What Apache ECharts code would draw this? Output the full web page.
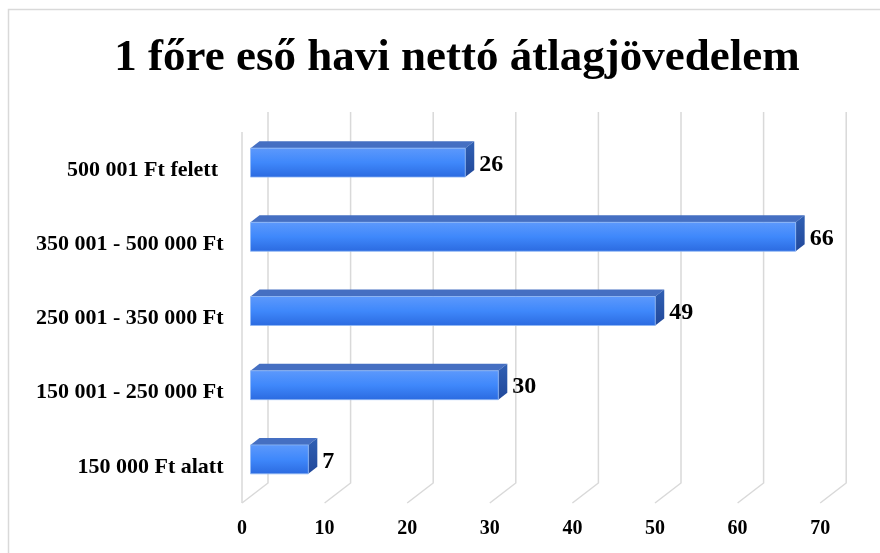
<!DOCTYPE html>
<html>
<head>
<meta charset="utf-8">
<script src="https://cdn.jsdelivr.net/npm/echarts@6/dist/echarts.min.js"></script>
<style>
  html, body { margin: 0; padding: 0; background: #fff; }
  #chart { width: 880px; height: 553px; }
</style>
</head>
<body>
<div id="chart"></div>
<script>
const categories = ['150 000 Ft alatt', '150 001 - 250 000 Ft', '250 001 - 350 000 Ft', '350 001 - 500 000 Ft', '500 001 Ft felett '];
const values = [7, 30, 49, 66, 26];
const xTicks = [0, 10, 20, 30, 40, 50, 60, 70];

const FONT = "'Liberation Serif', 'Times New Roman', serif";
// depth of the fake 3d box, relative to the plane the bars' front faces sit in
const BACK = [17.5, -13.5];
const FRONT = [-8.5, 6.5];
const BAR_DEPTH = [9, -7];
const GRID_COLOR = '#d9d9d9';

const chart = echarts.init(document.getElementById('chart'));

function renderWall(params, api) {
  const cs = params.coordSys;
  const v = api.value(0);
  const x = api.coord([v, 0])[0];
  const top = cs.y;
  const bottom = cs.y + cs.height;
  const lineStyle = { stroke: GRID_COLOR, lineWidth: 1.5, fill: null };
  const children = [
    {
      type: 'polyline',
      shape: { points: [
        [x + BACK[0], top + BACK[1]],
        [x + BACK[0], bottom + BACK[1]],
        [x + FRONT[0], bottom + FRONT[1]]
      ] },
      style: lineStyle
    },
    {
      type: 'text',
      style: {
        x: x + FRONT[0], y: bottom + FRONT[1] + 26,
        text: String(v),
        align: 'center', verticalAlign: 'middle',
        font: 'bold 20px ' + FONT, fill: '#000'
      }
    }
  ];
  if (params.dataIndex === 0) {
    children.push({
      type: 'line',
      shape: { x1: x + FRONT[0], y1: top + FRONT[1], x2: x + FRONT[0], y2: bottom + FRONT[1] },
      style: { stroke: GRID_COLOR, lineWidth: 1.5 }
    });
  }
  return { type: 'group', children: children };
}

function renderBar(params, api) {
  const idx = api.value(0);
  const val = api.value(1);
  const p0 = api.coord([0, idx]);
  const p1 = api.coord([val, idx]);
  const h = api.size([0, 1])[1] * 0.39;
  const x0 = p0[0], x1 = p1[0];
  const yt = p0[1] - h / 2, yb = p0[1] + h / 2;
  const dx = BAR_DEPTH[0], dy = BAR_DEPTH[1];
  return {
    type: 'group',
    children: [
      {
        type: 'polygon',
        shape: { points: [[x0, yt], [x1, yt], [x1 + dx, yt + dy], [x0 + dx, yt + dy]] },
        style: { fill: '#456fc2' }
      },
      {
        type: 'polygon',
        shape: { points: [[x1, yt], [x1 + dx, yt + dy], [x1 + dx, yb + dy], [x1, yb]] },
        style: {
          fill: new echarts.graphic.LinearGradient(0, 0, 0, 1, [
            { offset: 0, color: '#3060b4' },
            { offset: 1, color: '#21489a' }
          ])
        }
      },
      {
        type: 'rect',
        shape: { x: x0, y: yt, width: x1 - x0, height: h },
        style: {
          fill: new echarts.graphic.LinearGradient(0, 0, 0, 1, [
            { offset: 0, color: '#5d99fc' },
            { offset: 0.5, color: '#3f88fb' },
            { offset: 1, color: '#2b6ae0' }
          ]),
          stroke: '#8fb7f5', lineWidth: 0.8
        }
      },
      {
        type: 'text',
        style: {
          x: x1 + 14, y: p0[1] + 2,
          text: String(val),
          align: 'left', verticalAlign: 'middle',
          font: 'bold 24px ' + FONT, fill: '#000'
        }
      }
    ]
  };
}

const option = {
  backgroundColor: '#fff',
  animation: false,
  graphic: [
    {
      type: 'rect',
      shape: { x: 8.5, y: 9.5, width: 900, height: 600 },
      style: { fill: null, stroke: GRID_COLOR, lineWidth: 1.5 },
      silent: true
    }
  ],
  title: {
    text: '1 főre eső havi nettó átlagjövedelem',
    left: 452,
    top: 31,
    textAlign: 'center',
    textStyle: { fontFamily: FONT, fontWeight: 'bold', fontSize: 45, color: '#000' }
  },
  grid: { left: 250.5, top: 125.5, width: 578.2, height: 371 },
  xAxis: {
    type: 'value',
    min: 0, max: 70, interval: 10,
    axisLabel: { show: false },
    axisLine: { show: false },
    axisTick: { show: false },
    splitLine: { show: false }
  },
  yAxis: {
    type: 'category',
    data: categories,
    axisLine: { show: false },
    axisTick: { show: false },
    axisLabel: {
      margin: 27,
      verticalAlign: 'top',
      lineHeight: 15,
      fontFamily: FONT, fontWeight: 'bold', fontSize: 22, color: '#000'
    }
  },
  series: [
    {
      type: 'custom',
      renderItem: renderWall,
      data: xTicks.map(function (t) { return [t]; }),
      encode: { x: 0 },
      silent: true,
      z: 1
    },
    {
      type: 'custom',
      renderItem: renderBar,
      data: values.map(function (v, i) { return [i, v]; }),
      encode: { y: 0, x: 1 },
      z: 2
    }
  ]
};

chart.setOption(option);
</script>
</body>
</html>
